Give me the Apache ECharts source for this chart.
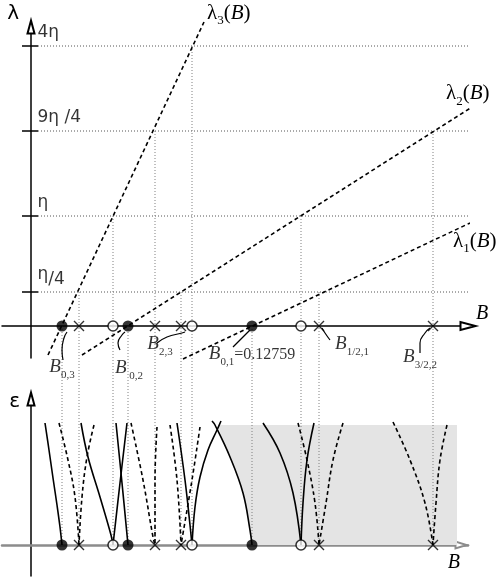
<!DOCTYPE html>
<html lang="en">
<head>
<meta charset="UTF-8">
<title>λ(B) levels and ε branches</title>
<script src="https://cdn.jsdelivr.net/npm/echarts@6.0.0/dist/echarts.min.js"></script>
<style>
    html, body { margin: 0; padding: 0; background: #fff; }
    #chart { width: 500px; height: 579px; }
</style>
</head>
<body>
<div id="chart"></div>
<script>
// schematic units (B to the right, λ / ε upwards)
var levelY = [34, 110, 195, 280];            // η/4, η, 9η/4, 4η
var levelText = ['η/4', 'η', '9η /4', '4η'];

var lambda1 = [[152, -33], [439, 103]];
var lambda2 = [[51, -29], [441, 219]];
var lambda3 = [[17, -29], [173, 304]];

var fullDots = [31, 97, 221];                // B0,3  B0,2  B0,1
var openDots = [82, 161, 270];
var crosses = [48, 124, 150, 288, 402];

// dotted drops: B position and the λ level they start from
var dropX = [31, 48, 82, 97, 124, 150, 161, 221, 270, 288, 402];
var dropFrom = [0, 34, 110, 0, 195, 34, 280, 0, 110, 34, 195];

// lower panel branches ε(B)
var epsSolid = [
    [[14, 122], [18, 95], [22, 67], [26, 40], [29, 18], [31, 0]],
    [[50, 122], [57, 88], [69, 48], [80, 10], [82, 0]],
    [[85, 122], [91, 62], [97, 0]],
    [[96, 122], [89, 62], [82, 0]],
    [[146, 122], [154, 65], [159, 20], [161, 0]],
    [[190, 124], [186, 115], [177, 95], [169, 68], [164, 38], [161, 0]],
    [[181, 124], [184, 120], [199, 88], [212, 52], [219, 15], [221, 0]],
    [[232, 122], [249, 92], [262, 52], [270, 0]],
    [[283, 122], [276, 85], [272, 42], [270, 0]]
];
var epsDashed = [
    [[28, 122], [37, 85], [44, 48], [48, 0]],
    [[63, 120], [56, 88], [51, 48], [48, 0]],
    [[100, 122], [112, 65], [122, 8], [124, 0]],
    [[126, 118], [124, 65], [124, 0]],
    [[139, 120], [146, 65], [150, 0]],
    [[169, 118], [161, 65], [150, 0]],
    [[267, 122], [276, 85], [284, 42], [288, 0]],
    [[312, 122], [302, 85], [295, 42], [288, 0]],
    [[362, 123], [379, 85], [394, 42], [402, 0]],
    [[416, 120], [409, 85], [405, 42], [402, 0]]
];
var shadeEdge = [[221, 0], [219, 15], [212, 52], [199, 88], [187, 118], [188, 120], [426, 120], [426, 0]];

// B labels under the axis
var noteText = ['{b|B}{s|0,3}', '{b|B}{s| 0,2}', '{b|B}{s|2,3}', '{b|B}{s|0,1}{n|=0.12759}', '{b|B}{s|1/2,1}', '{b|B}{s|3/2,2}'];
var noteAt = [[31, -46], [98, -47], [129, -23], [221, -33], [321, -23], [389, -36]];
var notePointer = [
    [[32, -34], [31, -24], [33, -12], [36, -6]],
    [[89, -24], [87, -17], [91, -9], [94, -6]],
    [[126, -17], [136, -11], [151, -7], [154, -6]],
    [[202, -21], [219, -4]],
    [[299, -14], [294, -7], [291, -2]],
    [[389, -27], [389, -17], [394, -7], [399, -2]]
];

var lowerBase = -219;   // lower panel baseline, in upper panel units

var serif = 'Liberation Serif';
var sans = 'DejaVu Sans';

var dotted = { color: '#555', width: 1, type: [1, 2] };
var dottedLight = { color: '#808080', width: 1, type: [1, 2] };
var dashed = { color: '#000', width: 1.6, type: [4, 3] };
var solid = { color: '#000', width: 1.6 };

var lamRich = {
    l: { fontFamily: serif, fontSize: 21, color: '#000', lineHeight: 21, padding: [0, 0, 4, 0], verticalAlign: 'bottom' },
    i: { fontFamily: serif, fontStyle: 'italic', fontSize: 21, color: '#000', lineHeight: 21, padding: [0, 0, 4, 0], verticalAlign: 'bottom' },
    s: { fontFamily: serif, fontSize: 13, color: '#000', lineHeight: 14, verticalAlign: 'bottom' }
};
var noteRich = {
    b: { fontFamily: serif, fontStyle: 'italic', fontSize: 19, color: '#000', lineHeight: 18, padding: [0, 0, 5, 0], verticalAlign: 'bottom' },
    n: { fontFamily: serif, fontSize: 16, color: '#000', lineHeight: 18, padding: [0, 0, 5, 0], verticalAlign: 'bottom' },
    s: { fontFamily: serif, fontSize: 11, color: '#000', lineHeight: 12, verticalAlign: 'bottom' }
};
var levelRich = {
    d: { fontFamily: sans, fontSize: 17, color: '#000', lineHeight: 17, padding: [0, 0, 8, 0], verticalAlign: 'bottom' },
    e: { fontFamily: sans, fontSize: 17, color: '#000', lineHeight: 17, padding: [0, 0, 3, 0], verticalAlign: 'bottom' },
    k: { fontFamily: sans, fontSize: 17, color: '#000', lineHeight: 17, padding: [0, 0, 4, 0], verticalAlign: 'bottom' }
};

function path(pts, gi, style, extra) {
    var s = {
        type: 'line', xAxisIndex: gi, yAxisIndex: gi, data: pts,
        symbol: 'none', clip: false, silent: true, animation: false,
        lineStyle: style, z: 3
    };
    for (var k in extra) s[k] = extra[k];
    return s;
}

function lamLine(pts, n, offset) {
    return path(pts, 0, dashed, {
        endLabel: {
            show: true, distance: 4, offset: offset,
            formatter: '{l|λ}{s|' + n + '}{l|(}{i|B}{l|)}',
            rich: lamRich
        }
    });
}

function markers(gi) {
    var cross = 'path://M0,0L10,10M0,10L10,0';
    return [
        { type: 'scatter', xAxisIndex: gi, yAxisIndex: gi, z: 6, silent: true, animation: false,
          symbol: 'circle', symbolSize: 11, itemStyle: { color: '#000' },
          data: fullDots.map(function (x) { return [x, 0]; }) },
        { type: 'scatter', xAxisIndex: gi, yAxisIndex: gi, z: 6, silent: true, animation: false,
          symbol: 'circle', symbolSize: 10, itemStyle: { color: '#fff', borderColor: '#000', borderWidth: 1.5 },
          data: openDots.map(function (x) { return [x, 0]; }) },
        { type: 'scatter', xAxisIndex: gi, yAxisIndex: gi, z: 6, silent: true, animation: false,
          symbol: cross, symbolSize: 10, itemStyle: { color: 'transparent', borderColor: '#000', borderWidth: 1.4 },
          data: crosses.map(function (x) { return [x, 0]; }) }
    ];
}

var series = [];

// lower panel grey region
series.push({
    type: 'custom', xAxisIndex: 1, yAxisIndex: 1, data: [[0, 0]], z: 1, silent: true, animation: false,
    renderItem: function (params, api) {
        return {
            type: 'polygon',
            shape: { points: shadeEdge.map(function (p) { return api.coord(p); }) },
            style: { fill: '#e4e4e4' }
        };
    }
});

// levels: short solid tick and dotted guide
levelY.forEach(function (y) {
    series.push(path([[-9, y], [7, y]], 0, { color: '#000', width: 1.5 }));
    series.push(path([[7, y], [439, y]], 0, dotted, { z: 2 }));
});

// level names just above each tick
series.push({
    type: 'scatter', xAxisIndex: 0, yAxisIndex: 0, z: 7, silent: true, animation: false, clip: false,
    symbolSize: 1, itemStyle: { color: 'transparent' },
    data: levelY.map(function (y, i) {
        var txt = i === 0 ? '{d|η}{e|/4}' : '{k|' + levelText[i] + '}';
        return { value: [0, y], label: { show: true, position: [7, 0], align: 'left', verticalAlign: 'bottom', formatter: txt, rich: levelRich } };
    })
});

// dotted drops down to the lower baseline
dropX.forEach(function (x, i) {
    series.push(path([[x, dropFrom[i]], [x, lowerBase]], 0, dottedLight, { z: 2 }));
});

series.push(lamLine(lambda1, 1, [-21, 22]));
series.push(lamLine(lambda2, 2, [-28, -11]));
series.push(lamLine(lambda3, 3, [-1, -5]));

epsSolid.forEach(function (c) { series.push(path(c, 1, solid, { smooth: 0.4 })); });
epsDashed.forEach(function (c) { series.push(path(c, 1, dashed, { smooth: 0.4 })); });

notePointer.forEach(function (c) { series.push(path(c, 0, { color: '#000', width: 1.2 }, { smooth: 0.5 })); });

series.push({
    type: 'scatter', xAxisIndex: 0, yAxisIndex: 0, z: 7, silent: true, animation: false, clip: false,
    symbolSize: 1, itemStyle: { color: 'transparent' },
    data: noteAt.map(function (p, i) {
        return { value: p, label: { show: true, position: 'inside', formatter: noteText[i], rich: noteRich } };
    })
});

series = series.concat(markers(0), markers(1));

var plainAxis = {
    axisTick: { show: false },
    axisLabel: { show: false },
    splitLine: { show: false }
};
function axis(extra) {
    var a = { type: 'value' };
    for (var k in plainAxis) a[k] = plainAxis[k];
    for (var j in extra) a[j] = extra[j];
    return a;
}

var option = {
    backgroundColor: '#fff',
    animation: false,
    grid: [
        { left: 2, width: 466, top: 27, height: 331 },
        { left: 2, width: 466, top: 399, height: 177 }
    ],
    xAxis: [
        axis({
            gridIndex: 0, min: -29, max: 437,
            axisLine: { onZero: true, symbol: ['none', 'emptyTriangle'], symbolSize: [8, 15], lineStyle: { color: '#000', width: 1.5 } },
            name: 'B', nameLocation: 'end', nameGap: 8,
            nameTextStyle: { fontFamily: serif, fontStyle: 'italic', fontSize: 20, color: '#000', align: 'left', verticalAlign: 'bottom', padding: [0, 0, 2, 0] }
        }),
        axis({
            gridIndex: 1, min: -29, max: 437,
            axisLine: { onZero: true, symbol: ['none', 'emptyTriangle'], symbolSize: [7, 11], symbolOffset: [0, -7], lineStyle: { color: '#8c8c8c', width: 2.5 } },
            name: 'B', nameLocation: 'end', nameGap: -8,
            nameTextStyle: { fontFamily: serif, fontStyle: 'italic', fontSize: 20, color: '#000', align: 'right', verticalAlign: 'top', padding: [8, 0, 0, 0] }
        })
    ],
    yAxis: [
        axis({
            gridIndex: 0, min: -32, max: 299,
            axisLine: { onZero: true, symbol: ['none', 'emptyTriangle'], symbolSize: [7, 13], lineStyle: { color: '#000', width: 1.5 } },
            name: 'λ', nameLocation: 'end', nameGap: 3,
            nameTextStyle: { fontFamily: sans, fontSize: 20, color: '#000', align: 'right', verticalAlign: 'bottom', padding: [0, 12, 0, 0] }
        }),
        axis({
            gridIndex: 1, min: -31, max: 146,
            axisLine: { onZero: true, symbol: ['none', 'emptyTriangle'], symbolSize: [7, 13], lineStyle: { color: '#000', width: 1.5 } },
            name: 'ε', nameLocation: 'end', nameGap: -13,
            nameTextStyle: { fontFamily: sans, fontSize: 20, color: '#000', align: 'right', verticalAlign: 'bottom', padding: [0, 11, 0, 0] }
        })
    ],
    series: series
};

var chart = echarts.init(document.getElementById('chart'));
chart.setOption(option);
</script>
</body>
</html>
